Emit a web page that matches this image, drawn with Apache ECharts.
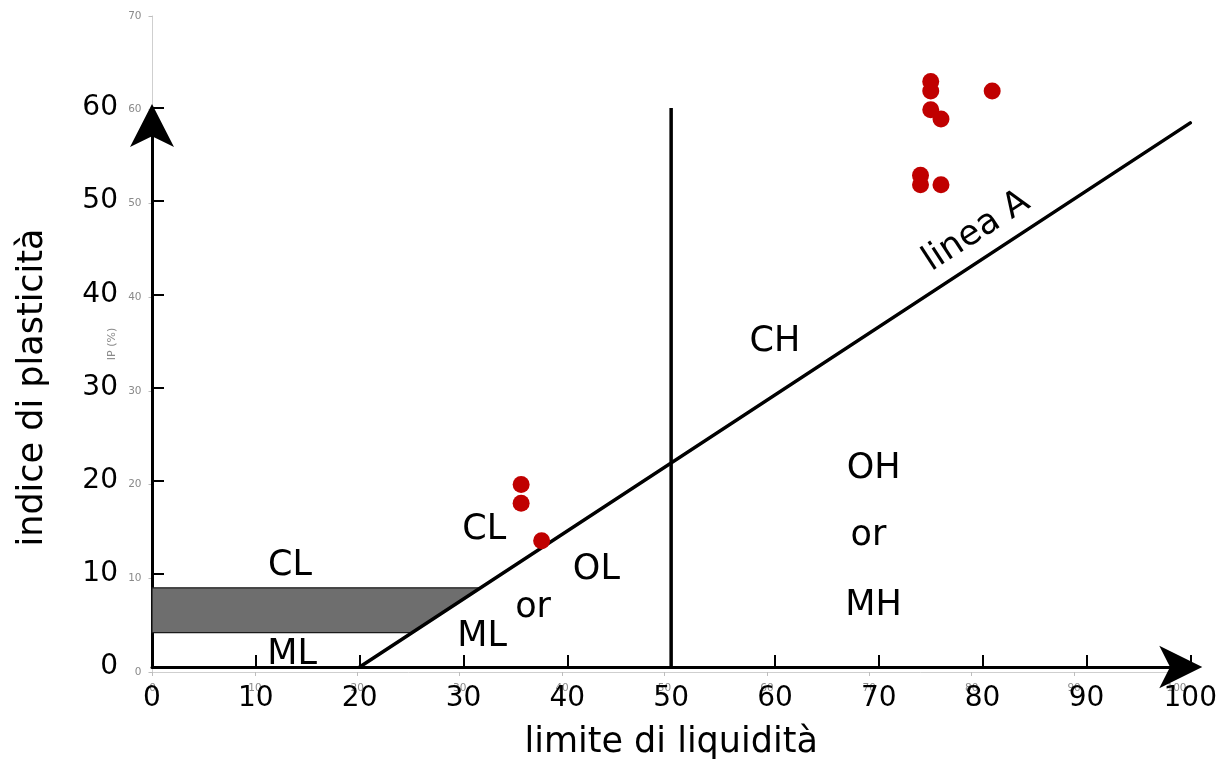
<!DOCTYPE html>
<html>
<head>
<meta charset="utf-8">
<script src="https://cdn.jsdelivr.net/npm/echarts@6/dist/echarts.min.js"></script>
<style>
  html, body { margin: 0; padding: 0; background: #fff; }
  #chart { width: 1220px; height: 765px; }
</style>
</head>
<body>
<div id="chart"></div>
<script>
// Samples: liquid limit (LL) and plasticity index (IP), in %
const liquidLimit     = [76, 76, 76, 77, 82, 75, 75, 77, 36, 36, 38];
const plasticityIndex = [63, 62, 60, 59, 62, 53, 52, 52, 20, 18, 14];

// Casagrande chart: A-line IP = 0.73 (LL - 20), LL = 50 divider, CL-ML band
const aLineSlope = 0.73;
const aLineStartLL = 20;
const aLineEndLL = 100;
const dividerLL = 50;
const dividerTopIP = 60;
const bandLowIP = 3.7;
const bandHighIP = 8.5;

// Region labels of the chart
const regionNames = ['CH', 'OH', 'or', 'MH', 'CL', 'ML', 'CL', 'OL', 'or', 'ML'];
const regionLL    = [60, 69.5, 69, 69.5, 13.3, 13.5, 32, 42.8, 36.7, 31.8];
const regionIP    = [35.2, 21.6, 14.4, 6.9, 11.2, 1.6, 15, 10.7, 6.7, 3.5];
const aLineLabel = 'linea A';
const aLineLabelLL = 79.4;

const aLineIP = ll => aLineSlope * (ll - aLineStartLL);
const aLineLL = ip => aLineStartLL + ip / aLineSlope;

const aLineData = [[aLineStartLL, 0], [aLineEndLL, aLineIP(aLineEndLL)]];
const dividerData = [[dividerLL, 0], [dividerLL, dividerTopIP]];
const bandPolygon = [[0, bandLowIP], [aLineLL(bandLowIP), bandLowIP], [aLineLL(bandHighIP), bandHighIP], [0, bandHighIP]];
const regionData = regionNames.map((n, i) => [regionLL[i], regionIP[i], n]);
const sampleData = liquidLimit.map((x, i) => [x, plasticityIndex[i]]);

const FONT = 'DejaVu Sans';
const bigAxis = (extra) => Object.assign({
  type: 'value', min: 0, interval: 10, z: 3,
  splitLine: { show: false },
  axisTick: { show: true, inside: true, length: 12, lineStyle: { color: '#000', width: 2 } },
  nameLocation: 'middle',
  nameTextStyle: { color: '#000', fontSize: 35, fontFamily: FONT }
}, extra);
const smallAxis = (extra) => Object.assign({
  type: 'value', min: 0, interval: 10, z: 1,
  splitLine: { show: false },
  axisLine: { show: true, lineStyle: { color: '#cfcfcf', width: 1 } },
  axisTick: { show: true, length: 4, lineStyle: { color: '#bdbdbd' } },
  axisLabel: { color: '#8a8a8a', fontSize: 10.5, fontFamily: FONT, margin: 11 },
  nameLocation: 'middle',
  nameTextStyle: { color: '#8a8a8a', fontSize: 11, fontFamily: FONT }
}, extra);

// Capital letters sit a little high in a middle-aligned box; nudge them down
const textLabel = (extra) => Object.assign({
  show: true, position: 'inside', formatter: p => p.value[2], offset: [0, 3],
  color: '#000', fontSize: 35, fontFamily: FONT
}, extra);

const chart = echarts.init(document.getElementById('chart'), null, { renderer: 'canvas' });
chart.setOption({
  animation: false,
  backgroundColor: '#fff',
  textStyle: { fontFamily: FONT },
  grid: [
    { left: 152, top: 108, width: 1040, height: 562 },
    { left: 152.5, top: 16, width: 1024, height: 656 }
  ],
  xAxis: [
    bigAxis({ gridIndex: 0, max: 100, name: 'limite di liquidità', nameGap: 58,
      axisLine: { show: true, lineStyle: { color: '#000', width: 3 }, symbol: ['none', 'arrow'], symbolSize: [32, 43], symbolOffset: [0, 12] },
      axisLabel: { color: '#000', fontSize: 28, fontFamily: FONT, margin: 18 } }),
    smallAxis({ gridIndex: 1, max: 100 })
  ],
  yAxis: [
    bigAxis({ gridIndex: 0, max: 60, name: 'indice di plasticità', nameGap: 102,
      axisLine: { show: true, lineStyle: { color: '#000', width: 3 }, symbol: ['none', 'arrow'], symbolSize: [33, 43], symbolOffset: [0, 4] },
      axisLabel: { color: '#000', fontSize: 28, fontFamily: FONT, margin: 34, padding: [7, 0, 0, 0] } }),
    smallAxis({ gridIndex: 1, max: 70, name: 'IP (%)', nameGap: 32 })
  ],
  series: [
    {
      type: 'custom', xAxisIndex: 0, yAxisIndex: 0, z: 4, clip: false, silent: true,
      data: [0],
      renderItem: (params, api) => ({
        type: 'polygon',
        shape: { points: bandPolygon.map(p => api.coord(p)) },
        style: { fill: '#6e6e6e', stroke: '#1a1a1a', lineWidth: 1.2 }
      })
    },
    {
      type: 'line', xAxisIndex: 0, yAxisIndex: 0, z: 5, data: aLineData,
      symbol: 'none', lineStyle: { color: '#000', width: 3.5, cap: 'round' }
    },
    {
      type: 'line', xAxisIndex: 0, yAxisIndex: 0, z: 5, data: dividerData,
      symbol: 'none', lineStyle: { color: '#000', width: 3.5 }
    },
    {
      type: 'scatter', xAxisIndex: 0, yAxisIndex: 0, z: 6, data: regionData,
      symbolSize: 1, itemStyle: { color: 'rgba(0,0,0,0)', opacity: 1 }, silent: true,
      label: textLabel({})
    },
    {
      type: 'scatter', xAxisIndex: 0, yAxisIndex: 0, z: 6,
      data: [[aLineLabelLL, aLineIP(aLineLabelLL) + 3.4, aLineLabel]],
      symbolSize: 1, itemStyle: { color: 'rgba(0,0,0,0)', opacity: 1 }, silent: true,
      label: textLabel({ rotate: 33, offset: [0, 0] })
    },
    {
      type: 'scatter', xAxisIndex: 1, yAxisIndex: 1, z: 10, data: sampleData,
      symbol: 'circle', symbolSize: 17, itemStyle: { color: '#c00000', opacity: 1 }
    }
  ]
});
</script>
</body>
</html>
